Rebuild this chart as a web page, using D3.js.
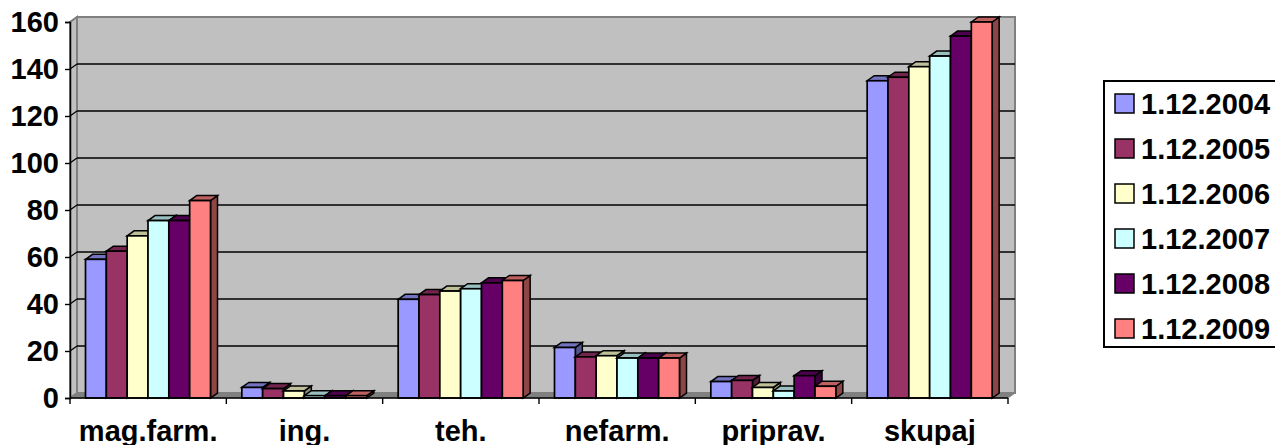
<!DOCTYPE html>
<html>
<head>
<meta charset="utf-8">
<script src="https://cdn.jsdelivr.net/npm/d3@7"></script>
<style>
    html, body { margin: 0; padding: 0; background: #fff; overflow: hidden; }
    svg { display: block; }
    text { font-family: "Liberation Sans", Arial, sans-serif; font-weight: bold; fill: #000; }
</style>
</head>
<body>
<svg id="chart" width="1275" height="445"></svg>
<script>
// Values
const categories = ['mag.farm.', 'ing.', 'teh.', 'nefarm.', 'priprav.', 'skupaj'];
const dates = ['1.12.2004', '1.12.2005', '1.12.2006', '1.12.2007', '1.12.2008', '1.12.2009'];
const colors = ['#9999FF', '#993366', '#FFFFCC', '#CCFFFF', '#660066', '#FF8080'];
const yTicks = [0, 20, 40, 60, 80, 100, 120, 140, 160];

const values2004 = [59, 4.5, 42, 21.5, 7, 135];
const values2005 = [62.5, 4, 44, 17.5, 7.5, 136.5];
const values2006 = [69, 3, 45.5, 18, 4.5, 141];
const values2007 = [75.5, 1, 46.5, 17, 3, 145.5];
const values2008 = [75.5, 1, 49, 17, 9.5, 154];
const values2009 = [84, 1, 50, 17, 5, 160];
const seriesValues = [values2004, values2005, values2006, values2007, values2008, values2009];

// Offset of the back wall against the front of the plot
const depthX = 7;
const depthY = 5;
const labelSize = 29;

const svg = d3.select('#chart');

const x = d3.scaleBand().domain(categories).range([70, 1008]);
const xBar = d3.scaleBand().domain(dates).range([15.5, 140.5]);
const y = d3.scaleLinear().domain([0, 160]).range([398, 22]);

const wallTop = y(160) - depthY;
const base = y(0);
const plotLeft = x.range()[0];
const plotRight = x.range()[1];

function poly(sel, pts, fill, stroke, width) {
    return sel.append('polygon')
        .attr('points', pts.map(p => p.join(',')).join(' '))
        .attr('fill', fill)
        .attr('stroke', stroke)
        .attr('stroke-width', width)
        .attr('stroke-linejoin', 'miter');
}

// Walls and floor
poly(svg, [[plotLeft + depthX, wallTop], [plotRight + depthX, wallTop], [plotRight + depthX, base - depthY], [plotLeft + depthX, base - depthY]], '#C0C0C0', '#808080', 2);
poly(svg, [[plotLeft, y(160)], [plotLeft + depthX, wallTop], [plotLeft + depthX, base - depthY], [plotLeft, base]], '#C0C0C0', '#808080', 2);
poly(svg, [[plotLeft, base], [plotLeft + depthX, base - depthY], [plotRight + depthX, base - depthY], [plotRight, base]], '#808080', '#808080', 1);

// Gridlines on the back wall
svg.append('g').selectAll('line')
    .data(yTicks.filter(t => t > 0 && t < 160))
    .enter().append('line')
    .attr('x1', plotLeft + depthX)
    .attr('x2', plotRight + depthX)
    .attr('y1', d => y(d) - depthY)
    .attr('y2', d => y(d) - depthY)
    .attr('stroke', '#000')
    .attr('stroke-width', 1.4);

// Left diagonals from ticks to wall
svg.append('g').selectAll('line')
    .data(yTicks)
    .enter().append('line')
    .attr('x1', plotLeft)
    .attr('x2', plotLeft + depthX)
    .attr('y1', d => y(d))
    .attr('y2', d => y(d) - depthY)
    .attr('stroke', d => (d === 0 || d === 160) ? '#808080' : '#000')
    .attr('stroke-width', 1.2);

// Bars, left to right so each front covers the side of the one before
categories.forEach((cat, c) => {
    dates.forEach((date, s) => {
        const v = seriesValues[s][c];
        const x0 = x(cat) + xBar(date);
        const x1 = x0 + xBar.bandwidth();
        const y0 = y(v);
        const color = d3.rgb(colors[s]);
        const g = svg.append('g');
        const shade = f => d3.rgb(color.r * f, color.g * f, color.b * f).formatHex();
        poly(g, [[x1, y0], [x1 + depthX, y0 - depthY], [x1 + depthX, base - depthY], [x1, base]], shade(0.55), '#000', 1.5);
        poly(g, [[x0, y0], [x0 + depthX, y0 - depthY], [x1 + depthX, y0 - depthY], [x1, y0]], shade(0.75), '#000', 1.5);
        g.append('rect')
            .attr('x', x0)
            .attr('y', y0)
            .attr('width', x1 - x0)
            .attr('height', base - y0)
            .attr('fill', colors[s])
            .attr('stroke', '#000')
            .attr('stroke-width', 1.7);
    });
});

// Y axis
const yAxis = d3.axisLeft(y).tickValues(yTicks).tickSize(5).tickPadding(6);
const yG = svg.append('g').attr('transform', `translate(${plotLeft},0)`).call(yAxis);
yG.select('.domain').attr('stroke', '#000').attr('stroke-width', 1.5);
yG.selectAll('.tick line').attr('stroke', '#000').attr('stroke-width', 1.4);
yG.selectAll('text').attr('font-size', labelSize).attr('dy', '0.34em');

// X axis: ticks sit on the group borders, so draw the band edges
svg.append('line')
    .attr('x1', plotLeft).attr('x2', plotRight)
    .attr('y1', base).attr('y2', base)
    .attr('stroke', '#000').attr('stroke-width', 1.5);
svg.append('g').selectAll('line')
    .data(categories.map(c => x(c)).concat([plotRight]))
    .enter().append('line')
    .attr('x1', d => d).attr('x2', d => d)
    .attr('y1', base).attr('y2', base + 6)
    .attr('stroke', '#000').attr('stroke-width', 1.4);
svg.append('g').selectAll('text')
    .data(categories)
    .enter().append('text')
    .attr('x', d => x(d) + x.bandwidth() / 2)
    .attr('y', 441)
    .attr('text-anchor', 'middle')
    .attr('font-size', labelSize)
    .text(d => d);

// Legend
svg.append('rect')
    .attr('x', 1104).attr('y', 81)
    .attr('width', 180).attr('height', 266)
    .attr('fill', '#fff').attr('stroke', '#000').attr('stroke-width', 2);
const legend = svg.append('g').selectAll('g')
    .data(dates)
    .enter().append('g')
    .attr('transform', (d, i) => `translate(1115,${94 + i * 45})`);
legend.append('rect')
    .attr('width', 19).attr('height', 19)
    .attr('fill', (d, i) => colors[i])
    .attr('stroke', '#000').attr('stroke-width', 1.5);
legend.append('text')
    .attr('x', 26).attr('y', 20)
    .attr('font-size', labelSize)
    .text(d => d);
</script>
</body>
</html>
